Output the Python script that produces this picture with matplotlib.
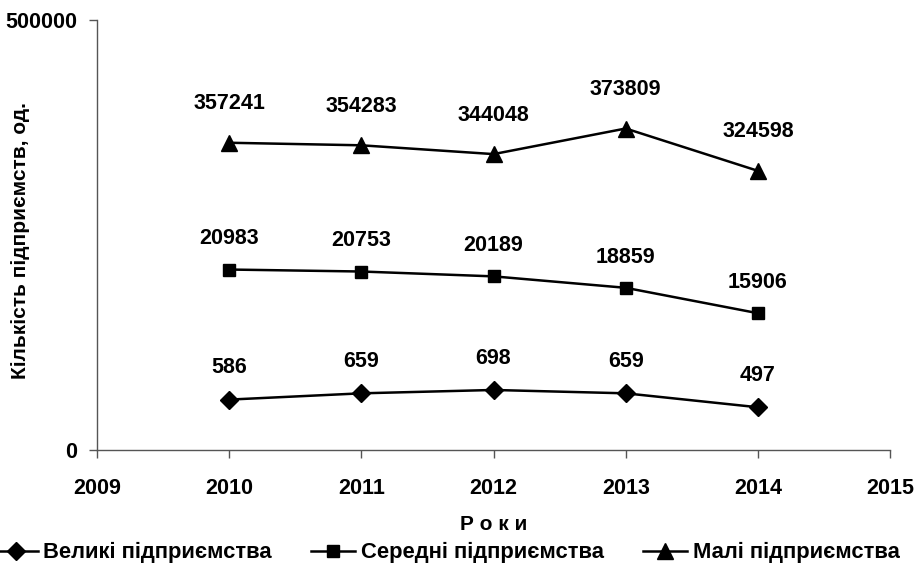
import matplotlib
matplotlib.use("Agg")
import matplotlib.pyplot as plt

plt.rcParams['font.family'] = ['Liberation Sans', 'DejaVu Sans']
plt.rcParams['font.weight'] = 'bold'

years = [2010, 2011, 2012, 2013, 2014]
large = [586, 659, 698, 659, 497]
medium = [20983, 20753, 20189, 18859, 15906]
small = [357241, 354283, 344048, 373809, 324598]

# plotting multipliers so the three series share one axis
large_scale = 100
medium_scale = 10
small_scale = 1

series_names = ["Великі підприємства", "Середні підприємства", "Малі підприємства"]

fig = plt.figure(figsize=(9.17, 5.79), dpi=100)
ax = fig.add_axes([0.1058, 0.2228, 0.8648, 0.7427])

specs = [
    (large, large_scale, 'D', 9, 23),
    (medium, medium_scale, 's', 9, 22),
    (small, small_scale, '^', 11, 28),
]
handles = []
for (vals, k, mk, ms, off), name in zip(specs, series_names):
    ys = [v * k for v in vals]
    h, = ax.plot(years, ys, color='black', lw=1.8, marker=mk, markersize=ms,
                 markerfacecolor='black', markeredgecolor='black', label=name)
    handles.append(h)
    for x, y, v in zip(years, ys, vals):
        ax.annotate(str(v), (x, y), xytext=(0, off), textcoords='offset points',
                    ha='center', va='center', fontsize=15.5, fontweight='bold')

ax.set_xlim(2009, 2015)
ax.set_ylim(0, 500000)
ax.set_xticks([2009, 2010, 2011, 2012, 2013, 2014, 2015])
ax.set_yticks([0, 500000])
ax.set_yticklabels(['0', '500000'])
for s in ['top', 'right']:
    ax.spines[s].set_visible(False)
for s in ['left', 'bottom']:
    ax.spines[s].set_color('#555555')
    ax.spines[s].set_linewidth(1.0)
ax.tick_params(axis='both', direction='out', length=6, width=1.0, color='#555555',
               labelsize=15.5)
ax.tick_params(axis='x', pad=14)
ax.tick_params(axis='y', pad=8)
for lbl in ax.get_xticklabels() + ax.get_yticklabels():
    lbl.set_fontweight('bold')

ax.set_xlabel("Р о к и", fontsize=15, fontweight='bold')
ax.xaxis.set_label_coords(0.5, -0.152)
ax.set_ylabel("Кількість підприємств, од.", fontsize=15, fontweight='bold',
              va='center')
ax.yaxis.set_label_coords(-0.097, 0.488)

fig.legend(handles=handles, labels=series_names, loc='center', ncol=3,
           bbox_to_anchor=(0.487, 0.045), frameon=False,
           handlelength=2.0, handletextpad=0.25, columnspacing=1.8,
           prop={'weight': 'bold', 'size': 15.8})

fig.savefig("out.png", dpi=100)
